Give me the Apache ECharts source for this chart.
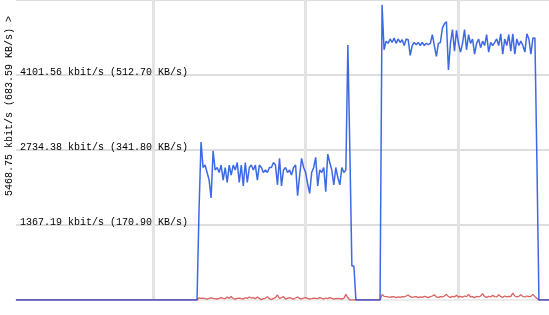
<!DOCTYPE html>
<html>
<head>
<meta charset="utf-8">
<script src="https://cdn.jsdelivr.net/npm/echarts@6/dist/echarts.min.js"></script>
<style>
html,body{margin:0;padding:0;background:#fff;}
#c{width:549px;height:315px;}
</style>
</head>
<body>
<div id="c"></div>
<script>
// Throughput samples (kbit/s), one per sample step
const blueSeries = [
0,0,0,0,0,0,0,0,0,0, 0,0,0,0,0,0,0,0,0,0, 0,0,0,0,0,0,0,0,0,0,
0,0,0,0,0,0,0,0,0,0, 0,0,0,0,0,0,0,0,0,0, 0,0,0,0,0,0,0,0,0,0,
0,0,0,0,0,0,0,0,0,0, 0,0,0,0,0,0,0,0,0,0, 0,0,0,0,0,0,0,0,0,0,
0,
1640,2880,2415,2460,2323,2190,1860,2720,2370,2415,
2323,2460,2187,2415,2142,2460,2278,2460,2370,2507,
2142,2460,2080,2507,2142,2415,2460,2370,2460,2187,
2460,2415,2323,2370,2323,2415,2415,2507,2460,2100,
2583,2080,2370,2415,2323,2370,2278,2415,2460,1900,
2265,2583,2415,2323,2115,1945,2323,2415,2600,2080,
2370,2323,2415,1975,2660,2507,2370,2100,2415,2233,
2100,2415,2323,2370,4650,2700,620,620,0,0,
0,0,0,0,0,0,0,0,0,0,0,
5380,
4561,4718,4679,4758,4695,4774,4679,4758,4695,4743,
4639,4758,4743,4458,4639,4695,4654,4695,4639,4695,
4639,4679,4654,4679,4836,4639,4442,4679,4695,4955,
5034,5074,4193,4679,4931,4537,4916,4679,4520,4679,
4931,4561,4836,4679,4758,4481,4679,4758,4600,4718,
4639,4836,4520,4695,4639,4695,4758,4639,4852,4481,
4758,4639,4836,4537,4852,4481,4758,4639,4718,4639,
4520,4852,4758,4481,4774,4774,
2500,
0,0,0,0,0,0
];
const redSeries = [
0,0,0,0,0,0,0,0,0,0, 0,0,0,0,0,0,0,0,0,0, 0,0,0,0,0,0,0,0,0,0,
0,0,0,0,0,0,0,0,0,0, 0,0,0,0,0,0,0,0,0,0, 0,0,0,0,0,0,0,0,0,0,
0,0,0,0,0,0,0,0,0,0, 0,0,0,0,0,0,0,0,0,0, 0,0,0,0,0,0,0,0,0,0,
0,
40,30,36,24,18,30,40,30,24,18,
30,42,30,24,55,30,67,24,18,30,
36,24,18,42,30,55,36,42,24,55,
30,6,24,30,61,24,6,30,42,91,
30,42,61,18,30,42,30,18,36,55,
30,18,36,42,30,18,24,36,30,24,
42,30,18,36,24,42,30,18,24,30,
24,18,30,103,40,
0,0,0,0,0,0,0,0,0,0,0,0,0,0,0,0,
103,67,61,55,49,61,55,42,55,49,
61,55,73,91,61,49,55,61,42,55,
49,67,55,42,61,73,97,55,49,61,
55,73,103,61,49,67,55,85,55,67,
49,73,61,103,55,61,42,67,55,73,
115,61,49,67,55,85,61,55,97,61,
49,73,55,67,61,127,73,55,67,97,
61,55,73,61,67,103,61,30,
0,0,0,0,0,0
];
const categories = blueSeries.map((_, i) => i);
const yMax = 5468.75;
const yStep = 1367.1875;
const tickValues = [1367.1875, 2734.375, 4101.5625];
const tickLabels = ['1367.19 kbit/s (170.90 KB/s)', '2734.38 kbit/s (341.80 KB/s)', '4101.56 kbit/s (512.70 KB/s)'];
const topLabel = '5468.75 kbit/s (683.59 KB/s) >';
const vGridFirst = 68, vGridEvery = 76;

const chart = echarts.init(document.getElementById('c'), null, {renderer: 'canvas'});
const FONT = '"Liberation Mono", "DejaVu Sans Mono", monospace';
chart.setOption({
  animation: false,
  backgroundColor: '#fff',
  grid: {left: 16, right: 0, top: 0, bottom: 15, containLabel: false},
  xAxis: {
    type: 'category',
    data: categories,
    boundaryGap: false,
    axisLabel: {show: false},
    axisTick: {show: false},
    axisLine: {show: true, onZero: false, offset: 3, lineStyle: {color: '#ececec', width: 2}},
    splitLine: {
      show: true,
      interval: (idx) => idx >= vGridFirst && (idx - vGridFirst) % vGridEvery === 0,
      lineStyle: {color: '#e3e3e3', width: 3}
    }
  },
  yAxis: {
    type: 'value',
    min: 0,
    max: yMax,
    interval: yStep,
    axisLine: {show: false},
    axisTick: {show: false},
    splitLine: {show: true, lineStyle: {color: '#dedede', width: 2}},
    axisLabel: {
      inside: true,
      margin: 4,
      verticalAlign: 'bottom',
      padding: [0, 0, -2, 0],
      color: '#000',
      fontFamily: FONT,
      fontSize: 10,
      formatter: (v) => {
        const k = tickValues.findIndex(t => Math.abs(t - v) < 0.01);
        return k >= 0 ? tickLabels[k] : '';
      }
    }
  },
  graphic: [{
    type: 'text',
    x: 9, y: 106,
    rotation: Math.PI / 2,
    style: {
      text: topLabel,
      fill: '#000',
      font: '10px ' + FONT,
      textAlign: 'center',
      textVerticalAlign: 'middle'
    }
  }],
  series: [
    {
      type: 'line', data: redSeries, showSymbol: false, symbol: 'none',
      lineStyle: {color: '#db6060', width: 1.3}, z: 2
    },
    {
      type: 'line', data: blueSeries, showSymbol: false, symbol: 'none',
      lineStyle: {color: '#1c4fe0', width: 1.5, opacity: 0.85}, z: 3
    }
  ]
});
</script>
</body>
</html>
